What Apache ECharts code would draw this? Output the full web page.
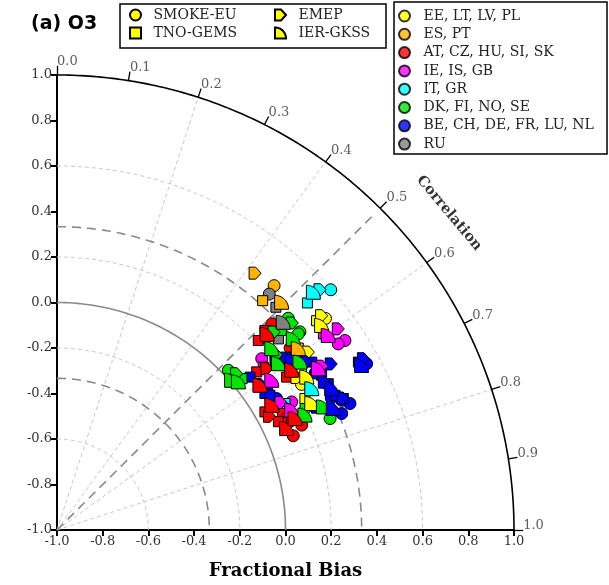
<!DOCTYPE html>
<html><head><meta charset="utf-8">
<script src="https://cdn.jsdelivr.net/npm/echarts@6/dist/echarts.min.js"></script>
<style>html,body{margin:0;padding:0;background:#fff}#c{width:609px;height:585px}</style>
</head><body><div id="c"></div>
<script>
// ---------- data ----------
const groupNames = ['EE, LT, LV, PL','ES, PT','AT, CZ, HU, SI, SK','IE, IS, GB','IT, GR','DK, FI, NO, SE','BE, CH, DE, FR, LU, NL','RU'];
const groupColors = ['#ffff00','#ffb400','#ff0000','#ff00ff','#00ffff','#00e600','#0000ff','#808080'];
const modelNames = ['SMOKE-EU','TNO-GEMS','EMEP','IER-GKSS'];
// [fractional bias, y, group index]
const smokeEU = [
 [-0.05,0.074,1],[-0.071,0.037,7],[0.198,0.056,4],[0.012,-0.069,5],[-0.06,-0.094,2],
 [0.063,-0.129,5],[0.056,-0.138,5],[0.26,-0.167,3],[0.231,-0.182,3],[-0.104,-0.247,3],
 [-0.25,-0.298,5],[-0.039,-0.422,6],[0.282,-0.444,6],[0.246,-0.488,6],[0.027,-0.437,3],
 [-0.01,-0.488,2],[0.005,-0.51,2],[0.071,-0.539,2],[0.034,-0.586,2],[0.195,-0.51,5],
 [0.355,-0.269,6],[0.02,-0.2,2],[0.175,-0.07,0],[0.2,-0.42,6],[0.13,-0.31,6],[0.07,-0.36,0],
 [-0.02,-0.27,6],[-0.08,-0.39,6],[0.246,-0.43,6]
];
const tnoGems = [
 [-0.1,0.008,1],[-0.042,-0.021,7],[-0.031,-0.16,7],[0.096,-0.002,4],[0.136,-0.08,0],
 [-0.09,-0.123,2],[-0.119,-0.167,2],[-0.017,-0.123,5],[0.056,-0.2,1],[0.166,-0.138,3],
 [-0.097,-0.284,3],[-0.046,-0.255,6],[0.115,-0.262,6],[-0.126,-0.305,2],[0.005,-0.328,2],
 [0.158,-0.32,6],[0.187,-0.357,6],[-0.155,-0.328,6],[0.217,-0.408,6],[0.253,-0.422,6],
 [0.085,-0.422,0],[-0.09,-0.4,6],[-0.068,-0.408,6],[-0.002,-0.444,4],[-0.09,-0.481,2],
 [-0.031,-0.524,2],[-0.19,-0.335,5],[0.319,-0.262,6],[0.07,-0.30,0],[0.0,-0.24,6]
];
const emep = [
 [-0.133,0.129,1],[0.151,0.056,4],[0.158,-0.058,0],[0.231,-0.116,3],[-0.075,-0.152,2],
 [-0.082,-0.291,2],[0.1,-0.218,0],[-0.214,-0.313,5],[0.341,-0.247,6],[0.03,-0.09,5],
 [0.09,-0.26,6],[0.2,-0.27,6],[0.25,-0.42,6],[0.14,-0.46,6],[-0.02,-0.44,3],
 [-0.05,-0.13,5],[0.027,-0.255,6],[0.05,-0.33,0],[0.17,-0.35,6],[-0.11,-0.36,6],
 [0.09,-0.47,5],[0.03,-0.52,2],[-0.07,-0.5,2],[0.16,-0.28,3],[-0.04,-0.23,5]
];
const ierGkss = [
 [-0.017,0.001,1],[-0.01,-0.087,7],[0.122,0.045,4],[0.158,-0.101,0],[0.187,-0.145,3],
 [0.034,-0.16,5],[-0.06,-0.203,5],[0.056,-0.203,1],[-0.031,-0.269,5],[0.063,-0.262,5],
 [0.144,-0.291,3],[0.027,-0.298,2],[0.093,-0.328,0],[-0.06,-0.342,3],[-0.112,-0.364,2],
 [0.115,-0.379,4],[0.202,-0.379,6],[0.115,-0.444,0],[0.166,-0.459,5],[0.209,-0.466,6],
 [-0.06,-0.452,2],[0.027,-0.473,3],[0.085,-0.495,5],[0.042,-0.51,2],[0.005,-0.554,2],
 [-0.236,-0.342,5],[-0.206,-0.349,5],[0.333,-0.277,6],[-0.08,-0.14,2]
];
const modelData = [smokeEU, tnoGems, emep, ierGkss];
const corrTicks = [0.0,0.1,0.2,0.3,0.4,0.5,0.6,0.7,0.8,0.9,1.0];
const lightArcRadii = [0.4,0.8,1.2,1.6];
const dashArcRadii = [2/3,4/3];
const lightRays = [0.2,0.4,0.6,0.8];

// ---------- geometry helpers ----------
function pt(rad, corr){ const a=(1-corr)*Math.PI/2; return [-1+rad*Math.cos(a), -1+rad*Math.sin(a)]; }
function arcPts(rad){ const o=[]; for(let i=0;i<=180;i++) o.push(pt(rad,i/180)); return o; }
let quarter='path://M0,0 L0,10 L10,10';
for(let i=1;i<=20;i++){const t=i/20*Math.PI/2; quarter+=' L'+(10*Math.cos(t)).toFixed(3)+','+(10-10*Math.sin(t)).toFixed(3);}
quarter+=' Z';
const arrow='path://M0,0 L5.5,0 L10,5 L5.5,10 L0,10 Z';
const square='path://M0,0 L10,0 L10,10 L0,10 Z';
const symbols=['circle',square,arrow,quarter];
const symSizes=[12,10,12,14];

const FONT='DejaVu Serif';
const series=[];
function lineS(data,color,width,type,z){
  series.push({type:'line',data:data,showSymbol:false,symbol:'none',silent:true,z:z||1,clip:false,
    lineStyle:{color:color,width:width,type:type},animation:false});
}
lightArcRadii.forEach(r=>lineS(arcPts(r),'#c8c8c8',1,[4,3]));
lightRays.forEach(c=>lineS([pt(0,c),pt(2,c)],'#c8c8c8',1,[4,3]));
dashArcRadii.forEach(r=>lineS(arcPts(r),'#8a8a8a',1.6,[9,6]));
lineS([pt(0,0.5),pt(1.97,0.5)],'#8a8a8a',1.6,[9,6]);
lineS(arcPts(1),'#8a8a8a',1.6,'solid');
lineS(arcPts(2),'#000',1.6,'solid',2);
series.push({type:'lines',coordinateSystem:'cartesian2d',silent:true,z:2,clip:false,
  lineStyle:{color:'#000',width:1.3,opacity:1},
  data:corrTicks.map(c=>({coords:[pt(2,c),pt(2.04,c)]}))});
series.push({type:'scatter',symbolSize:0,silent:true,z:2,clip:false,
  data:corrTicks.map(c=>({value:pt(2.04,c),name:c.toFixed(1)})),
  label:{show:true,position:'right',distance:0,offset:[0,-4],formatter:p=>p.name,
    fontFamily:FONT,fontSize:13,color:'#333'}});
series.push({type:'scatter',symbolSize:0,silent:true,z:2,clip:false,
  data:[{value:pt(2.21,0.566),name:'Correlation'}],
  label:{show:true,position:'inside',rotate:-50,formatter:p=>p.name,
    fontFamily:FONT,fontWeight:'bold',fontSize:14.5,color:'#000'}});
modelNames.forEach((m,i)=>{
  series.push({type:'scatter',name:m,symbol:symbols[i],symbolSize:symSizes[i],z:5,
    itemStyle:{color:'#ffff00',borderColor:'#000',borderWidth:1,opacity:1},
    data:modelData[i].map(d=>({value:[d[0],d[1]],itemStyle:{color:groupColors[d[2]]}}))});
});
groupNames.forEach((g,i)=>{
  series.push({type:'scatter',name:g,symbol:'circle',symbolSize:11,data:[],
    itemStyle:{color:groupColors[i],borderColor:'#000',borderWidth:1}});
});

const axisCommon={type:'value',min:-1,max:1,interval:0.2,
  axisLine:{show:true,onZero:false,lineStyle:{color:'#000',width:2}},
  axisTick:{show:true,length:6,lineStyle:{color:'#000',width:2}},
  splitLine:{show:false},
  axisLabel:{formatter:v=>v.toFixed(1),fontFamily:FONT,fontSize:13,color:'#333',margin:5}};
const legendText={fontFamily:FONT,fontSize:14,lineHeight:16,color:'#222'};
const option={
  animation:false,
  backgroundColor:'#fff',
  title:{text:'(a) O3',left:26,top:10,textStyle:{fontFamily:'DejaVu Sans',fontWeight:'bold',fontSize:19,color:'#000'}},
  grid:{left:57,right:95,top:75,bottom:53,containLabel:false},
  xAxis:Object.assign({},axisCommon,{name:'Fractional Bias',nameLocation:'middle',nameGap:32,
    nameTextStyle:{fontFamily:FONT,fontWeight:'bold',fontSize:18,color:'#000'}}),
  yAxis:Object.assign({},axisCommon),
  legend:[
    {orient:'vertical',left:129,top:7,itemWidth:26,itemHeight:11,itemGap:2,selectedMode:false,padding:0,
      data:[{name:'SMOKE-EU',icon:'circle'},{name:'TNO-GEMS',icon:square}],textStyle:legendText},
    {orient:'vertical',left:274,top:7,itemWidth:26,itemHeight:11,itemGap:2,selectedMode:false,padding:0,
      data:[{name:'EMEP',icon:arrow},{name:'IER-GKSS',icon:quarter}],textStyle:legendText},
    {orient:'vertical',left:398,top:8,itemWidth:28,itemHeight:11,itemGap:2.3,selectedMode:false,padding:0,
      data:groupNames.map(g=>({name:g,icon:'circle'})),textStyle:legendText}
  ],
  graphic:[
    {type:'rect',shape:{x:120,y:4,width:266,height:44},style:{fill:'#fff',stroke:'#000',lineWidth:1.5},z:0},
    {type:'rect',shape:{x:394,y:2,width:213,height:152},style:{fill:'#fff',stroke:'#000',lineWidth:1.5},z:0}
  ],
  series:series
};
const chart=echarts.init(document.getElementById('c'),null,{renderer:'canvas'});
chart.setOption(option);
</script></body></html>
